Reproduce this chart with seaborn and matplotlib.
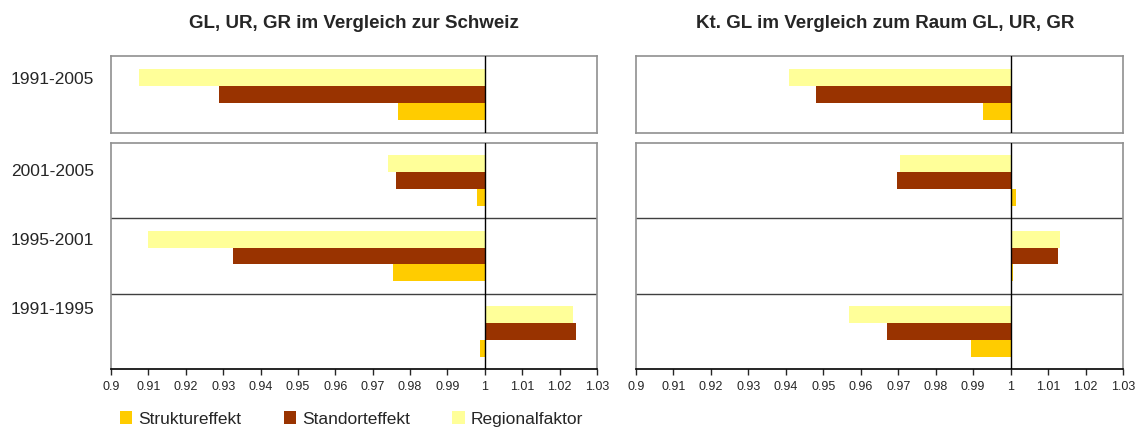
import matplotlib
matplotlib.use("Agg")
import matplotlib.pyplot as plt
import numpy as np
import pandas as pd
import seaborn as sns
from matplotlib.patches import Patch

# Daten
perioden = ["1991-2005", "2001-2005", "1995-2001", "1991-1995"]
effekte = ["Regionalfaktor", "Standorteffekt", "Struktureffekt"]

# GL, UR, GR im Vergleich zur Schweiz
struktur_links = [0.9769, 0.9979, 0.9755, 0.9988]
standort_links = [0.9288, 0.9763, 0.9326, 1.0245]
regional_links = [0.9075, 0.9742, 0.9099, 1.0237]

# Kt. GL im Vergleich zum Raum GL, UR, GR
struktur_rechts = [0.9927, 1.0015, 1.0007, 0.9894]
standort_rechts = [0.9481, 0.9698, 1.0127, 0.9670]
regional_rechts = [0.9409, 0.9706, 1.0133, 0.9569]

farben = {"Struktureffekt": "#FFCC00", "Standorteffekt": "#993300", "Regionalfaktor": "#FFFF99"}
ticks = [0.9, 0.91, 0.92, 0.93, 0.94, 0.95, 0.96, 0.97, 0.98, 0.99, 1, 1.01, 1.02, 1.03]
basis = 1.0

# vertikale Verschiebung der Periodenbeschriftung (wie im Excel-Original)
label_shift = {"1991-2005": -0.19, "2001-2005": -0.12, "1995-2001": -0.21, "1991-1995": -0.29}


def tabelle(struktur, standort, regional):
    df = pd.DataFrame({"Periode": perioden, "Struktureffekt": struktur,
                       "Standorteffekt": standort, "Regionalfaktor": regional})
    df = df.melt(id_vars="Periode", var_name="Effekt", value_name="Wert")
    # Balken starten bei 1 -> Länge = Abweichung von 1
    df["Abweichung"] = df["Wert"] - basis
    return df


sns.set_style("white")
plt.rcParams["font.family"] = ["Liberation Sans", "DejaVu Sans"]

W, H = 1136, 428
fig = plt.figure(figsize=(W / 100, H / 100), dpi=100)


def px_axes(x0, y0, x1, y1):
    return fig.add_axes([x0 / W, 1 - y1 / H, (x1 - x0) / W, (y1 - y0) / H])


def zeichne(ax, df, unten, labels):
    sns.barplot(data=df, x="Abweichung", y="Periode", hue="Effekt", hue_order=effekte,
                palette=farben, orient="h", width=0.67, left=basis, ax=ax,
                legend=False, saturation=1, linewidth=0)
    ax.set_xlim(0.9, 1.03)
    kats = list(dict.fromkeys(df["Periode"]))
    n = len(kats)
    ax.set_ylim(n - 0.5, -0.5)
    ax.axvline(basis, color="black", lw=1, zorder=5)
    for k in range(1, n):
        ax.axhline(k - 0.5, color="#404040", lw=1)
    for s in ax.spines.values():
        s.set_color("#909090")
        s.set_linewidth(1.2)
    ax.set_xlabel("")
    ax.set_ylabel("")
    ax.set_xticks(ticks)
    if unten:
        ax.spines["bottom"].set_color("black")
        ax.set_xticklabels([f"{t:g}" for t in ticks], fontsize=9)
        ax.tick_params(axis="x", bottom=True, direction="out", length=4, width=1, pad=5)
    else:
        ax.set_xticklabels([])
        ax.tick_params(axis="x", bottom=False)
    ax.tick_params(axis="y", left=False)
    ax.set_yticklabels([])
    if labels:
        trans = ax.get_yaxis_transform()
        for i, k in enumerate(kats):
            ax.text(-17 / (ax.bbox.width), i + label_shift[k], k, transform=trans,
                    ha="right", va="center", fontsize=12.5)


links = tabelle(struktur_links, standort_links, regional_links)
rechts = tabelle(struktur_rechts, standort_rechts, regional_rechts)

for df, x0, x1, labels in [(links, 111, 597, True), (rechts, 636, 1123, False)]:
    oben = df[df["Periode"] == perioden[0]].copy()
    unten_df = df[df["Periode"] != perioden[0]].copy()
    ax_o = px_axes(x0, 56, x1, 133)
    zeichne(ax_o, oben, False, labels)
    ax_u = px_axes(x0, 143, x1, 369)
    zeichne(ax_u, unten_df, True, labels)

fig.text(354 / W, 1 - 23 / H, "GL, UR, GR im Vergleich zur Schweiz", ha="center",
         va="center", fontsize=13.5, fontweight="bold")
fig.text(885 / W, 1 - 23 / H, "Kt. GL im Vergleich zum Raum GL, UR, GR", ha="center",
         va="center", fontsize=13.5, fontweight="bold")

handles = [Patch(facecolor=farben[e], edgecolor="none")
           for e in ["Struktureffekt", "Standorteffekt", "Regionalfaktor"]]
fig.legend(handles, ["Struktureffekt", "Standorteffekt", "Regionalfaktor"],
           loc="center left", bbox_to_anchor=(120 / W, 1 - 419 / H), ncol=3,
           frameon=False, fontsize=12.5, handlelength=0.7, handleheight=0.75,
           handletextpad=0.35, columnspacing=2.45, borderaxespad=0, borderpad=0)

fig.savefig("out.png", dpi=100)
